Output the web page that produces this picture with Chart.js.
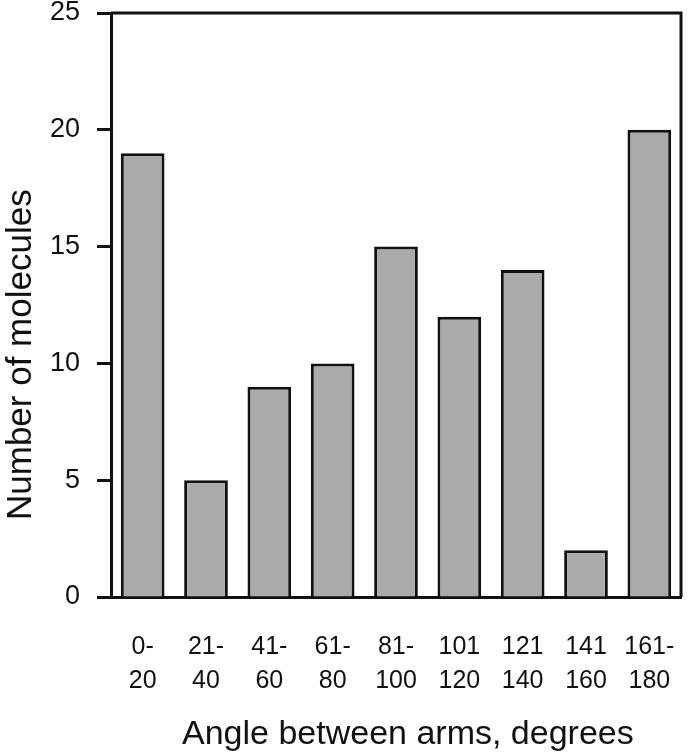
<!DOCTYPE html>
<html>
<head>
<meta charset="utf-8">
<script src="https://cdn.jsdelivr.net/npm/chart.js@4"></script>
<style>
  html, body { margin: 0; padding: 0; background: #fff; }
  #wrap { width: 688px; height: 755px; }
</style>
</head>
<body>
<div id="wrap"><canvas id="graph1"></canvas></div>
<script>
// angle bins (two-line labels) and counts
const categories = [
  ['0-', '20'], ['21-', '40'], ['41-', '60'], ['61-', '80'], ['81-', '100'],
  ['101', '120'], ['121', '140'], ['141', '160'], ['161-', '180']
];
const molecules = [19, 5, 9, 10, 15, 12, 14, 2, 20];
const yTicks = [0, 5, 10, 15, 20, 25];
const xTitle = 'Angle between arms, degrees';
const yTitle = 'Number of molecules';

// close the frame on top and right, and put the axis titles
// where the original has them (not centred on the axes)
const boxPlugin = {
  id: 'box',
  afterDraw(chart) {
    const a = chart.chartArea;
    const c = chart.ctx;
    c.save();
    c.strokeStyle = '#111';
    c.lineWidth = 3;
    c.beginPath();
    c.moveTo(a.left, a.top);
    c.lineTo(a.right, a.top);
    c.lineTo(a.right, a.bottom);
    c.stroke();

    c.fillStyle = '#111';
    c.textAlign = 'left';
    c.textBaseline = 'alphabetic';
    c.font = '34px "Liberation Sans"';
    c.fillText(xTitle, a.left + 71, chart.height - 11);

    c.font = '35px "Liberation Sans"';
    c.translate(31, a.bottom - 77);
    c.rotate(-Math.PI / 2);
    c.fillText(yTitle, 0, 0);
    c.restore();
  }
};

let ctx = document.querySelector('#graph1');

const data = {
  labels: categories,
  datasets: [{
    data: molecules,
    backgroundColor: '#aaaaaa',
    borderColor: '#111',
    borderWidth: 3,
    barPercentage: 0.69,
    categoryPercentage: 1
  }]
};

const config = {
  type: 'bar',
  data: data,
  options: {
    responsive: true,
    maintainAspectRatio: false,
    animation: false,
    layout: { padding: { left: 0, right: 7, top: 13, bottom: 0 } },
    plugins: {
      legend: { display: false },
      tooltip: { enabled: false }
    },
    scales: {
      x: {
        afterFit: (scale) => {
          scale.height = 158;
          scale.paddingLeft = 0;
          scale.paddingRight = 0;
        },
        grid: { display: false, drawTicks: false },
        border: { display: true, color: '#111', width: 3 },
        ticks: {
          color: '#111',
          padding: 33,
          maxRotation: 0,
          autoSkip: false,
          font: { family: 'Liberation Sans', size: 25, lineHeight: 1.36 }
        }
      },
      y: {
        min: 0,
        max: 25,
        afterBuildTicks: (axis) => { axis.ticks = yTicks.map(v => ({ value: v })); },
        afterFit: (scale) => {
          scale.width = 111;
          scale.paddingTop = 13;
          scale.paddingBottom = 13;
        },
        grid: {
          drawOnChartArea: false,
          drawTicks: true,
          tickLength: 14,
          tickWidth: 3,
          tickColor: '#111'
        },
        border: { display: true, color: '#111', width: 3 },
        ticks: {
          color: '#111',
          padding: 17,
          font: { family: 'Liberation Sans', size: 27, lineHeight: 1.0 }
        }
      }
    }
  },
  plugins: [boxPlugin]
};

const graph1 = new Chart(ctx, config);
</script>
</body>
</html>
